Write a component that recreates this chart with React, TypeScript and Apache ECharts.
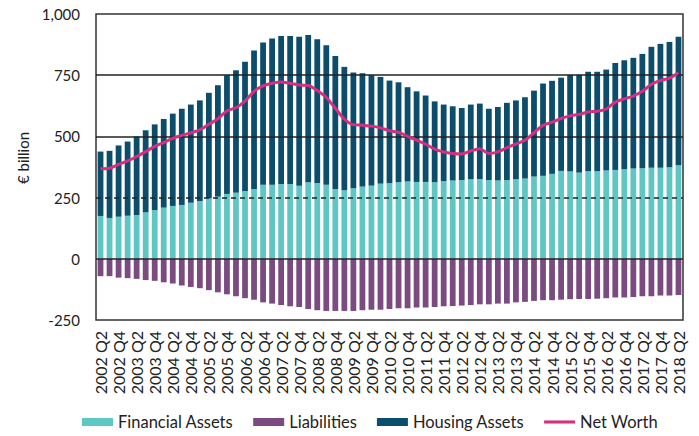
import React, { useEffect, useRef } from "react";
import * as echarts from "echarts";

const years = Array.from({ length: 17 }, (_, i) => 2002 + i);
const categories: string[] = [];
years.forEach((y) => {
  ["Q1", "Q2", "Q3", "Q4"].forEach((q) => {
    const s = `${y} ${q}`;
    if (!(y === 2002 && q === "Q1") && !(y === 2018 && (q === "Q3" || q === "Q4"))) categories.push(s);
  });
});

const financialAssets = [
  175, 167, 172, 176, 179, 190, 199, 209, 216, 220, 229, 236, 247, 254, 265, 270,
  277, 285, 303, 303, 306, 306, 298, 313, 310, 302, 285, 280, 288, 295, 299, 307,
  309, 313, 316, 314, 314, 313, 317, 320, 322, 325, 326, 322, 320, 322, 325, 328,
  336, 339, 347, 359, 357, 352, 358, 358, 361, 363, 366, 369, 370, 372, 372, 374, 382,
];
const housingAssets = [
  263, 274, 291, 303, 321, 335, 350, 362, 377, 393, 401, 411, 431, 455, 485, 500,
  528, 566, 581, 597, 604, 604, 609, 601, 587, 570, 543, 504, 473, 463, 451, 436,
  419, 408, 385, 370, 353, 330, 313, 303, 294, 305, 308, 291, 300, 315, 322, 332,
  351, 377, 380, 381, 394, 399, 406, 406, 412, 437, 445, 452, 467, 494, 506, 512, 525,
];
const liabilities = [
  -71, -71, -77, -79, -82, -87, -90, -96, -101, -109, -115, -120, -128, -137, -145, -153,
  -161, -167, -178, -183, -189, -194, -197, -205, -210, -213, -213, -213, -213, -210, -208, -208,
  -205, -202, -202, -199, -199, -197, -194, -193, -191, -189, -186, -186, -183, -183, -178, -176,
  -172, -169, -169, -167, -165, -164, -164, -163, -161, -158, -158, -156, -153, -153, -150, -150, -148,
];
const netWorth = [
  368, 370, 386, 400, 418, 438, 459, 475, 492, 504, 515, 527, 550, 572, 605, 617,
  644, 684, 706, 717, 722, 717, 710, 708, 687, 659, 615, 571, 548, 546, 542, 535,
  523, 517, 500, 485, 468, 448, 436, 430, 428, 441, 450, 430, 437, 454, 469, 484,
  515, 545, 558, 573, 584, 590, 600, 603, 612, 640, 653, 665, 684, 713, 728, 738, 760,
];
const yTicks = [-250, 0, 250, 500, 750, 1000];

const FONT = "Lato, 'Noto Sans', sans-serif";

export default function App() {
  const ref = useRef<HTMLDivElement>(null);
  useEffect(() => {
    if (!ref.current) return;
    const chart = echarts.init(ref.current, undefined, { renderer: "svg" });
    const gridLine = (v: number, dashed: boolean) => ({
      yAxis: v,
      lineStyle: { color: "#222", width: 1.5, type: dashed ? [5, 4] : "solid" },
    });
    chart.setOption({
      animation: false,
      textStyle: { fontFamily: FONT },
      grid: {
        left: 96,
        right: 16,
        top: 14,
        bottom: 116,
        show: true,
        borderColor: "#333",
        borderWidth: 1.5,
        backgroundColor: "transparent",
      },
      graphic: [
        {
          type: "text",
          x: 23,
          y: 158,
          rotation: Math.PI / 2,
          style: {
            text: "€ billion",
            fontFamily: FONT,
            fontSize: 15,
            fill: "#222",
            textAlign: "center",
            textVerticalAlign: "middle",
          },
        },
      ],
      legend: {
        left: 82,
        top: 412,
        padding: 0,
        itemWidth: 31,
        itemHeight: 8,
        itemGap: 20,
        textStyle: { fontFamily: FONT, fontSize: 16.5, color: "#222", lineHeight: 20 },
        data: [
          { name: "Financial Assets", icon: "rect" },
          { name: "Liabilities", icon: "rect" },
          { name: "Housing Assets", icon: "rect" },
          { name: "Net Worth", icon: "path://M0,0H40V4H0Z" },
        ],
      },
      xAxis: {
        type: "category",
        data: categories,
        axisLine: { show: false },
        axisTick: { show: false },
        axisLabel: {
          rotate: 90,
          interval: 1,
          margin: 11,
          fontSize: 16,
          color: "#222",
          fontFamily: FONT,
        },
      },
      yAxis: {
        type: "value",
        min: yTicks[0],
        max: yTicks[yTicks.length - 1],
        interval: 250,
        axisLine: { show: false },
        axisTick: { show: false },
        splitLine: { show: false },
        axisLabel: {
          margin: 16,
          fontSize: 15,
          color: "#222",
          fontFamily: FONT,
          formatter: (v: number) => v.toLocaleString("en-US"),
        },
      },
      series: [
        {
          name: "Financial Assets",
          type: "bar",
          stack: "total",
          barWidth: "64%",
          itemStyle: { color: "#5ec6c3" },
          data: financialAssets,
        },
        {
          name: "Liabilities",
          type: "bar",
          stack: "total",
          barWidth: "64%",
          itemStyle: { color: "#7a4a80" },
          data: liabilities,
        },
        {
          name: "Housing Assets",
          type: "bar",
          stack: "total",
          barWidth: "64%",
          itemStyle: { color: "#0b4d6b" },
          data: housingAssets,
          markLine: {
            silent: true,
            symbol: "none",
            label: { show: false },
            data: [gridLine(0, false), gridLine(250, true), gridLine(500, false), gridLine(750, false)],
          },
        },
        {
          name: "Net Worth",
          type: "line",
          z: 5,
          smooth: 0.3,
          symbol: "none",
          lineStyle: { color: "#d62f80", width: 3 },
          itemStyle: { color: "#d62f80" },
          data: netWorth,
        },
      ],
    });
    return () => chart.dispose();
  }, []);
  return <div ref={ref} style={{ width: 699, height: 436, position: "absolute", left: 0, top: 0 }} />;
}
